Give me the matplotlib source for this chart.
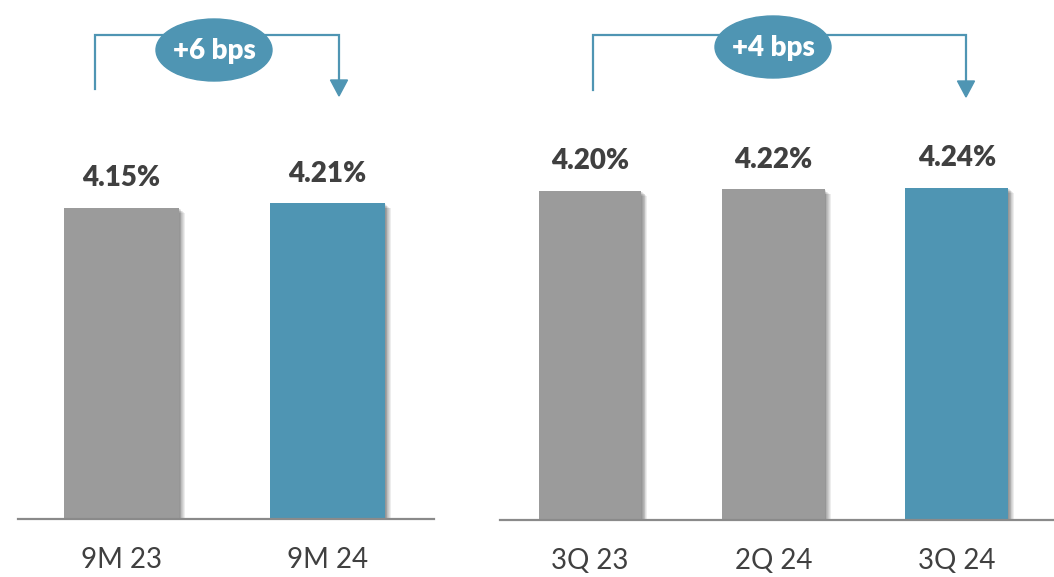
import matplotlib.pyplot as plt
import matplotlib.patheffects as pe
from matplotlib.patches import Ellipse, Polygon

plt.rcParams['font.family'] = ['Lato', 'DejaVu Sans']

# yearly (9M) and quarterly figures, in %
ytd_labels = ["9M 23", "9M 24"]
ytd_values = [4.15, 4.21]
qtr_labels = ["3Q 23", "2Q 24", "3Q 24"]
qtr_values = [4.20, 4.22, 4.24]
ytd_change = "+6 bps"
qtr_change = "+4 bps"

GREY = "#9b9b9b"
TEAL = "#4f95b3"
TXT = "#404040"

W, H = 1054, 577
fig = plt.figure(figsize=(W / 100, H / 100), dpi=100)

# soft drop shadow built from a few stacked offsets
shadow = [pe.SimplePatchShadow(offset=(0.6 * k, -0.5 * k), shadow_rgbFace="k", alpha=0.07)
          for k in range(1, 8)] + [pe.Normal()]


def panel(rect, labels, values, ytop, width):
    ax = fig.add_axes(rect)
    x = range(len(values))
    colors = [GREY] * (len(values) - 1) + [TEAL]
    bars = ax.bar(x, values, width=width, color=colors, zorder=2)
    for b in bars:
        b.set_path_effects(shadow)
    for xi, v in zip(x, values):
        ax.annotate(f"{v:.2f}%", (xi, v), xytext=(0, 12), textcoords="offset points",
                    ha="center", va="bottom", fontsize=20, fontweight="heavy", color=TXT)
    ax.set_ylim(0, ytop)
    ax.set_xticks(list(x))
    ax.set_xticklabels(labels, fontsize=20, color=TXT)
    ax.tick_params(axis="x", length=0, pad=20)
    ax.set_yticks([])
    for s in ["top", "left", "right"]:
        ax.spines[s].set_visible(False)
    ax.spines["bottom"].set_color("#8a8a8a")
    ax.spines["bottom"].set_linewidth(1.6)
    ax.patch.set_alpha(0)
    return ax


ax1 = panel([18 / W, 58 / H, 416 / W, 519 / H], ytd_labels, ytd_values, 6.925, 0.558)
ax1.set_xlim(-0.502, 1.517)
ax2 = panel([500 / W, 57 / H, 554 / W, 520 / H], qtr_labels, qtr_values, 6.638, 0.56)
ax2.set_xlim(-0.49, 2.53)

# overlay in pixel units for the change callouts
ov = fig.add_axes([0, 0, 1, 1], zorder=5)
ov.set_xlim(0, W)
ov.set_ylim(H, 0)
ov.axis("off")


def callout(x0, x1, ytop, ybot, tip, cx, cy, text):
    ov.plot([x0, x0, x1, x1], [ybot, ytop, ytop, tip - 14], color=TEAL, lw=1.6,
            solid_joinstyle="miter")
    ov.add_patch(Polygon([[x1 - 8.5, tip - 16], [x1 + 8.5, tip - 16], [x1, tip]],
                         closed=True, color=TEAL))
    ov.add_patch(Ellipse((cx, cy), 116, 62, color=TEAL, zorder=3))
    ov.text(cx, cy + 1, text, ha="center", va="center", color="white",
            fontsize=20, fontweight="heavy", zorder=4)


callout(95, 339, 35, 89, 96, 214, 50, ytd_change)
callout(593, 966, 35, 90, 97, 773, 47, qtr_change)

fig.savefig("out.png", dpi=100, facecolor="white")
